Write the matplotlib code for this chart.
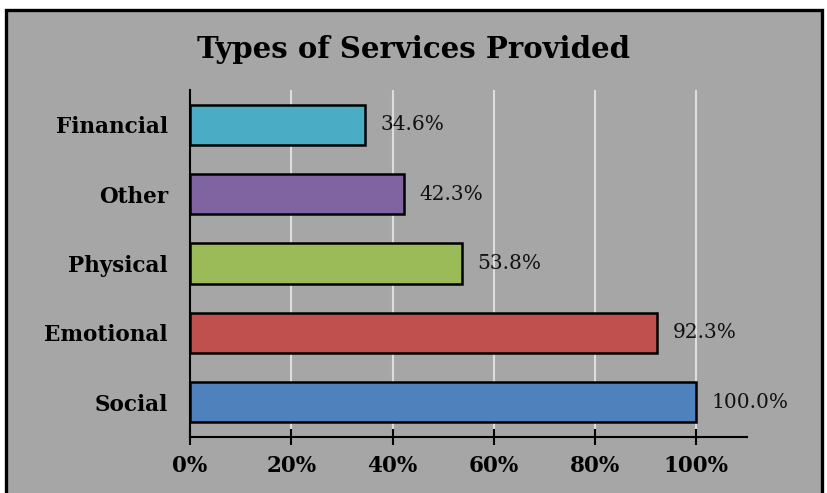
import matplotlib.pyplot as plt
from matplotlib.patches import Rectangle

categories = ["Social", "Emotional", "Physical", "Other", "Financial"]
values = [100.0, 92.3, 53.8, 42.3, 34.6]
colors = ["#4F81BD", "#C0504D", "#9BBB59", "#8064A2", "#4BACC6"]
xticks = [0, 20, 40, 60, 80, 100]
xtick_labels = ["0%", "20%", "40%", "60%", "80%", "100%"]

serif = ["DejaVu Serif"]
bg = "#A6A6A6"

fig = plt.figure(figsize=(8.28, 4.93), dpi=100, facecolor="white")

# gray panel with a black frame
panel = Rectangle((6 / 828, -0.05), (822 - 6) / 828, 1.05 - 10 / 493,
                  transform=fig.transFigure, facecolor=bg, edgecolor="black",
                  linewidth=2.4, zorder=-10)
fig.patches.append(panel)

ax = fig.add_axes([190 / 828, 1 - 437 / 493, (747 - 190) / 828, (437 - 90) / 493])
ax.set_facecolor(bg)
ax.set_zorder(1)

ypos = list(range(len(categories)))
ax.barh(ypos, values, height=0.58, color=colors, edgecolor="black",
        linewidth=1.8, zorder=3)

for y, v in zip(ypos, values):
    ax.text(v + 3.0, y, f"{v:.1f}%", va="center", ha="left",
            fontsize=14.5, family=serif, color="#111111", zorder=4)

ax.set_xlim(0, 110)
ax.set_ylim(-0.5, len(categories) - 0.5)
ax.set_xticks(xticks)
ax.set_xticklabels(xtick_labels, fontsize=15.5, fontweight="bold", family=serif)
ax.set_yticks(ypos)
ax.set_yticklabels(categories, fontsize=15.5, fontweight="bold", family=serif)

ax.tick_params(axis="x", direction="inout", length=12, width=1.5, pad=7,
               colors="black")
ax.tick_params(axis="y", length=0, pad=16)

ax.grid(axis="x", color="#DDDDDD", linewidth=1.5, zorder=1)
for side in ["top", "right"]:
    ax.spines[side].set_visible(False)
ax.spines["left"].set_linewidth(1.5)
ax.spines["bottom"].set_linewidth(1.5)

fig.text(0.5, 1 - 50 / 493, "Types of Services Provided", ha="center",
         va="center", fontsize=21, fontweight="bold", family=serif)

fig.savefig("out.png", dpi=100, facecolor="white")
